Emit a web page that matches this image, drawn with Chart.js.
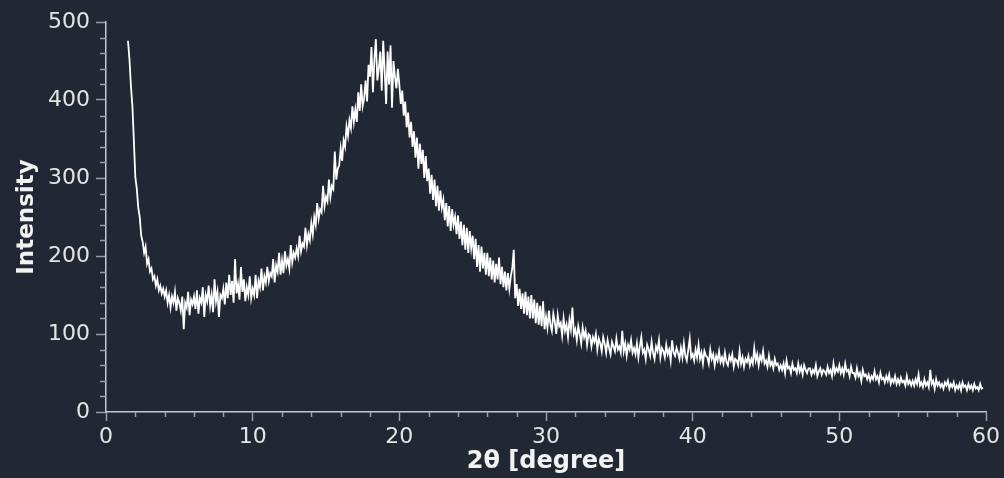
<!DOCTYPE html>
<html>
<head>
<meta charset="utf-8">
<script src="https://cdn.jsdelivr.net/npm/chart.js@4/dist/chart.umd.min.js"></script>
<style>
  html, body { margin: 0; padding: 0; background: #212833; }
  #wrap { width: 1004px; height: 478px; }
</style>
</head>
<body>
<div id="wrap"><canvas id="xrd" width="1004" height="478"></canvas></div>
<script>
// scan parameters (2θ start and step in degrees)
const scanStart = 1.5;
const scanStep = 0.1;

// intensity, 1.5° .. 9.9°
const intensityLow = [
  476, 452, 418, 392, 348,
  301, 286, 262, 250, 226, 218, 204, 212, 190, 196,
  180, 184, 170, 174, 162, 170, 156, 162, 152, 158,
  148, 156, 140, 150, 134, 148, 140, 154, 130, 146,
  140, 130, 148, 106, 140, 134, 154, 124, 144, 138,
  148, 132, 156, 126, 146, 140, 160, 122, 150, 142,
  162, 136, 150, 128, 170, 142, 154, 122, 150, 146,
  158, 138, 166, 146, 176, 150, 168, 140, 196, 152,
  164, 144, 186, 154, 170, 142, 160, 150, 174, 146
];

// 10.0° .. 29.9° (amorphous hump)
const intensityPeak = [
  158, 150, 176, 146, 168, 160, 184, 156, 174, 166,
  186, 168, 178, 174, 196, 166, 188, 180, 204, 176,
  194, 178, 206, 188, 196, 184, 214, 192, 204, 198,
  210, 200, 226, 206, 216, 212, 236, 214, 228, 220,
  242, 228, 250, 240, 268, 248, 260, 256, 290, 264,
  276, 270, 298, 276, 290, 286, 334, 298, 312, 316,
  338, 322, 348, 340, 366, 354, 374, 364, 392, 372,
  388, 372, 410, 386, 420, 392, 402, 425, 398, 445,
  430, 468, 410, 452, 478, 425, 440, 462, 412, 476,
  438, 395, 462, 420, 470, 390, 450, 430, 415, 440,
  420, 395, 412, 380, 398, 365, 384, 352, 372, 340,
  360, 326, 352, 312, 344, 318, 336, 300, 328, 296,
  312, 280, 304, 272, 298, 264, 290, 258, 284, 262,
  272, 246, 268, 238, 264, 232, 260, 240, 250, 228,
  252, 222, 244, 214, 240, 208, 236, 204, 232, 210,
  226, 196, 222, 186, 214, 180, 212, 184, 204, 176,
  204, 174, 198, 170, 194, 166, 190, 170, 198, 164,
  186, 160, 180, 156, 178, 158, 174, 184, 208, 146,
  164, 136, 158, 132, 152, 126, 154, 124, 148, 120,
  150, 120, 144, 114, 140, 112, 136, 110, 142, 106
];

// 30.0° .. 59.8° (tail)
const intensityTail = [
  122, 108, 130, 112, 104, 126, 116, 100, 124, 110,
  114, 98, 120, 104, 112, 96, 118, 106, 134, 100,
  106, 92, 110, 100, 88, 108, 96, 104, 86, 100,
  98, 84, 96, 90, 100, 80, 94, 88, 78, 96,
  88, 76, 92, 82, 74, 90, 84, 78, 94, 80,
  84, 76, 104, 78, 88, 72, 86, 80, 92, 76,
  82, 74, 88, 70, 84, 96, 76, 80, 68, 86,
  80, 72, 90, 76, 68, 84, 78, 92, 70, 82,
  78, 70, 86, 74, 80, 66, 92, 76, 72, 82,
  76, 68, 82, 70, 88, 72, 66, 80, 94, 70,
  74, 66, 80, 70, 86, 68, 76, 62, 78, 72,
  70, 62, 80, 68, 74, 60, 72, 66, 78, 64,
  70, 62, 76, 64, 60, 72, 66, 74, 58, 68,
  66, 60, 78, 62, 70, 58, 68, 64, 72, 60,
  68, 62, 82, 66, 74, 60, 72, 66, 78, 62,
  66, 58, 72, 60, 64, 56, 68, 60, 62, 54,
  60, 54, 62, 50, 66, 56, 58, 50, 62, 54,
  56, 50, 62, 52, 58, 48, 60, 54, 50, 56,
  56, 48, 54, 50, 60, 46, 52, 56, 48, 54,
  52, 48, 58, 50, 54, 46, 62, 50, 56, 52,
  60, 50, 56, 48, 62, 52, 54, 46, 58, 50,
  50, 44, 56, 46, 50, 40, 54, 46, 48, 42,
  48, 40, 46, 42, 52, 42, 46, 38, 50, 42,
  44, 38, 46, 40, 48, 36, 42, 38, 46, 36,
  42, 36, 44, 38, 40, 34, 46, 36, 40, 34,
  40, 34, 42, 36, 48, 34, 38, 32, 42, 34,
  38, 32, 54, 36, 40, 30, 42, 34, 38, 32,
  36, 30, 38, 34, 40, 30, 36, 32, 38, 28,
  34, 30, 36, 28, 38, 32, 34, 28, 36, 30,
  34, 28, 36, 30, 32, 28, 36, 30, 31
];

// axis ticks
const xTicks = [0, 10, 20, 30, 40, 50, 60];
const yTicks = [0, 100, 200, 300, 400, 500];
const xMinorStep = 2;
const yMinorStep = 20;

const intensity = intensityLow.concat(intensityPeak, intensityTail);
const points = intensity.map((v, i) => ({
  x: Math.round((scanStart + i * scanStep) * 10) / 10,
  y: v
}));

const textColor = '#e4e4e4';
const tickColor = '#9a9ea6';
const axisColor = '#c4c7cc';
const fontFamily = '"DejaVu Sans", Verdana, sans-serif';

// minor ticks, drawn through the scales
const minorTicks = {
  id: 'minorTicks',
  afterDraw(chart) {
    const ctx = chart.ctx;
    const xs = chart.scales.x;
    const ys = chart.scales.y;
    ctx.save();
    ctx.strokeStyle = tickColor;
    ctx.lineWidth = 1.5;
    ctx.beginPath();
    for (let v = xs.min; v <= xs.max; v += xMinorStep) {
      if (xTicks.includes(v)) continue;
      const px = Math.round(xs.getPixelForValue(v)) + 0.5;
      ctx.moveTo(px, ys.bottom);
      ctx.lineTo(px, ys.bottom + 5);
    }
    for (let v = ys.min; v <= ys.max; v += yMinorStep) {
      if (yTicks.includes(v)) continue;
      const py = Math.round(ys.getPixelForValue(v)) + 0.5;
      ctx.moveTo(xs.left - 6, py);
      ctx.lineTo(xs.left, py);
    }
    ctx.stroke();
    ctx.restore();
  }
};

new Chart(document.getElementById('xrd'), {
  type: 'line',
  data: {
    datasets: [{
      data: points,
      borderColor: '#ffffff',
      borderWidth: 1.8,
      pointRadius: 0,
      tension: 0,
      fill: false
    }]
  },
  options: {
    responsive: false,
    animation: false,
    devicePixelRatio: 1,
    layout: { padding: { top: 22, right: 18, left: 0, bottom: 0 } },
    plugins: {
      legend: { display: false },
      tooltip: { enabled: false }
    },
    scales: {
      x: {
        type: 'linear',
        min: 0,
        max: 60,
        afterBuildTicks: (s) => { s.ticks = xTicks.map(v => ({ value: v })); },
        afterFit: (s) => { s.height = 66; },
        grid: { drawOnChartArea: false, tickLength: 9, tickColor: tickColor, tickWidth: 1.5 },
        border: { color: axisColor, width: 1.5 },
        ticks: { color: textColor, font: { family: fontFamily, size: 22 }, padding: 3, maxRotation: 0 },
        title: {
          display: true,
          text: '2θ [degree]',
          color: '#f2f2f2',
          font: { family: fontFamily, size: 24, weight: 'bold' },
          padding: { top: 0, bottom: 2 }
        }
      },
      y: {
        min: 0,
        max: 500,
        afterBuildTicks: (s) => { s.ticks = yTicks.map(v => ({ value: v })); },
        afterFit: (s) => { s.width = 106; },
        grid: { drawOnChartArea: false, tickLength: 10, tickColor: tickColor, tickWidth: 1.5 },
        border: { color: axisColor, width: 1.5 },
        ticks: { color: textColor, font: { family: fontFamily, size: 22 }, padding: 6 },
        title: {
          display: true,
          text: 'Intensity',
          color: '#f2f2f2',
          font: { family: fontFamily, size: 23, weight: 'bold' },
          padding: { top: 13, bottom: 0 }
        }
      }
    }
  },
  plugins: [minorTicks]
});
</script>
</body>
</html>
